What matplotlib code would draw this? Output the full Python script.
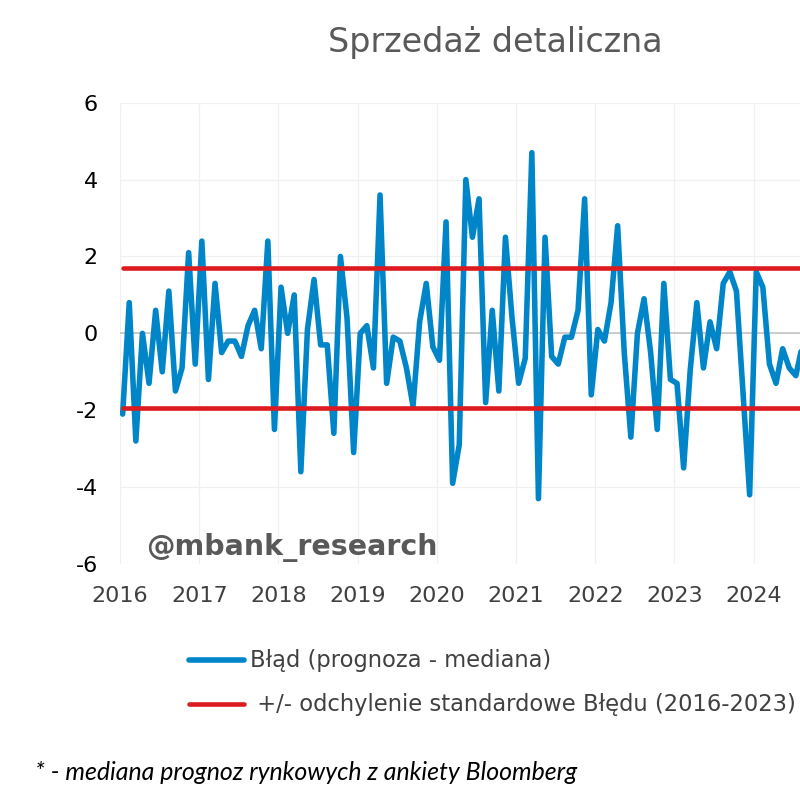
import numpy as np
import matplotlib
matplotlib.use("Agg")
import matplotlib.pyplot as plt
from matplotlib.lines import Line2D

plt.rcParams["axes.unicode_minus"] = False

# monthly forecast error (forecast - median), from Jan 2016
errors = [
    -2.1, 0.8, -2.8, 0.0, -1.3, 0.6, -1.0, 1.1, -1.5, -0.9, 2.1, -0.8,
    2.4, -1.2, 1.3, -0.5, -0.2, -0.2, -0.6, 0.2, 0.6, -0.4, 2.4, -2.5,
    1.2, 0.0, 1.0, -3.6, 0.1, 1.4, -0.3, -0.3, -2.6, 2.0, 0.4, -3.1,
    0.0, 0.2, -0.9, 3.6, -1.3, -0.1, -0.2, -0.9, -1.9, 0.3, 1.3, -0.35,
    -0.7, 2.9, -3.9, -2.9, 4.0, 2.5, 3.5, -1.8, 0.6, -1.5, 2.5, 0.4,
    -1.3, -0.65, 4.7, -4.3, 2.5, -0.6, -0.8, -0.1, -0.1, 0.6, 3.5, -1.6,
    0.1, -0.2, 0.8, 2.8, -0.5, -2.7, 0.0, 0.9, -0.5, -2.5, 1.3, -1.2,
    -1.3, -3.5, -0.95, 0.8, -0.9, 0.3, -0.4, 1.3, 1.6, 1.1, -1.55, -4.2,
    1.6, 1.2, -0.8, -1.3, -0.4, -0.9, -1.1, -0.3,
]
std_upper = 1.70
std_lower = -1.94
start_year = 2016
year_ticks = list(range(2016, 2025))
y_ticks = [-6, -4, -2, 0, 2, 4, 6]

label_err = "Błąd (prognoza - mediana)"
label_std = " +/- odchylenie standardowe Błędu (2016-2023)"
title = "Sprzedaż detaliczna"
footnote = "* - mediana prognoz rynkowych z ankiety Bloomberg"

BLUE = "#0086C8"
RED = "#DC1A1F"
GRAY = "#595959"

n = len(errors)
x = start_year + (np.arange(n) + 0.4) / 12

fig = plt.figure(figsize=(8, 8), dpi=100)
ax = fig.add_axes([0.15, 0.295, 0.85, 0.5766])

ax.plot(x, [std_upper] * n, color=RED, lw=3.3, solid_capstyle="round", zorder=4)
ax.plot(x, [std_lower] * n, color=RED, lw=3.3, solid_capstyle="round", zorder=4)
ax.plot(x, errors, color=BLUE, lw=4.0, solid_joinstyle="round",
        solid_capstyle="round", zorder=3)
ax.axhline(0, color="#C8C8C8", lw=1.3, zorder=2)

ax.set_xlim(2016, 2016 + 680 / 79.2)
ax.set_ylim(-6, 6)
ax.set_xticks(year_ticks)
ax.set_yticks(y_ticks)
ax.grid(True, color="#F0F0F0", lw=0.9, zorder=0)
for s in ax.spines.values():
    s.set_visible(False)
ax.tick_params(length=0)
ax.tick_params(axis="y", labelsize=16, labelcolor="black", pad=16)
ax.tick_params(axis="x", labelsize=16, labelcolor="#404040", pad=16)

fig.text(0.619, 1 - 52 / 800, title, ha="center", va="baseline",
         fontsize=24, color=GRAY)
fig.text(146 / 800, 1 - 555 / 800, "@mbank_research", ha="left", va="baseline",
         fontsize=20.5, fontweight="bold", color=GRAY)

# legend drawn by hand
fig.add_artist(Line2D([189 / 800, 244 / 800], [1 - 660 / 800] * 2, color=BLUE,
                      lw=4.0, solid_capstyle="round"))
fig.add_artist(Line2D([189 / 800, 244 / 800], [1 - 704 / 800] * 2, color=RED,
                      lw=3.3, solid_capstyle="round"))
fig.text(250 / 800, 1 - 660 / 800, label_err, ha="left", va="center",
         fontsize=16.3, color="#404040")
fig.text(250 / 800, 1 - 704 / 800, label_std, ha="left", va="center",
         fontsize=16.3, color="#404040")

fig.text(35 / 800, 1 - 772 / 800, footnote, ha="left", va="center",
         fontsize=17.9, style="italic", color="black", family="Lato")

fig.savefig("out.png", dpi=100)
